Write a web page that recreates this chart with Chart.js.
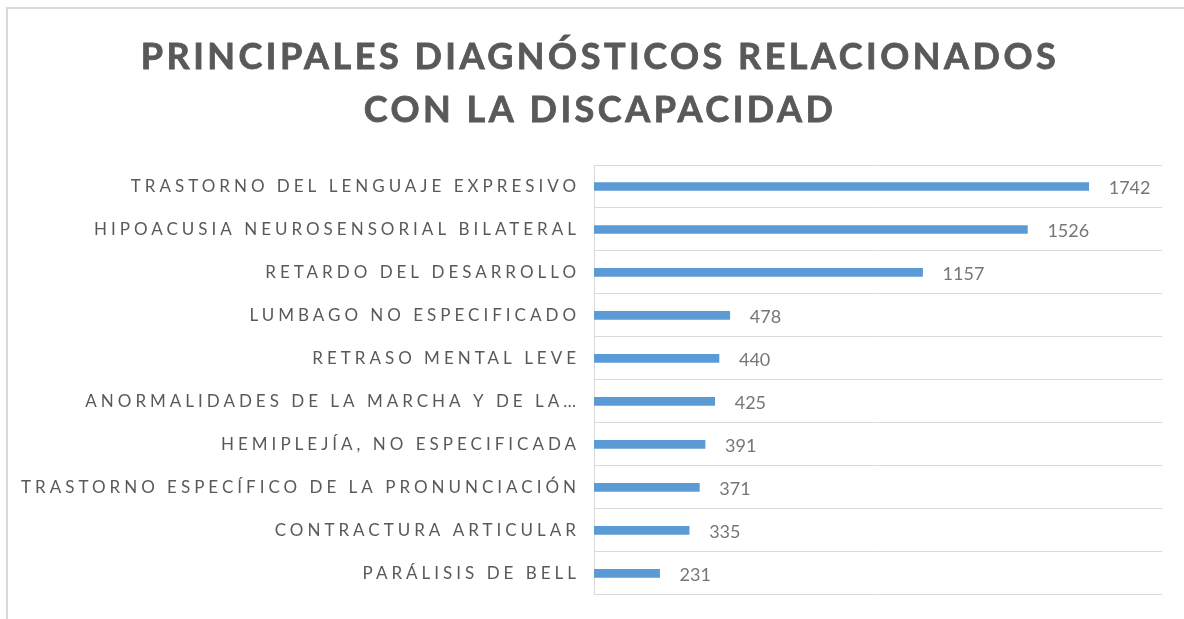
<!DOCTYPE html>
<html>
<head>
<meta charset="utf-8">
<script src="https://cdn.jsdelivr.net/npm/chart.js@4/dist/chart.umd.min.js"></script>
<style>
  html, body { margin: 0; padding: 0; background: #fff; overflow: hidden; }
  #marco { position: absolute; left: 6px; top: 7px; width: 1300px; height: 800px;
           border: 2px solid #D9D9D9; pointer-events: none; }
  canvas { position: absolute; left: 0; top: 0; }
</style>
</head>
<body>
<canvas id="grafico" width="1184" height="619"></canvas>
<div id="marco"></div>
<script>
// datos (de arriba hacia abajo)
var categorias = [
  'TRASTORNO DEL LENGUAJE EXPRESIVO',
  'HIPOACUSIA NEUROSENSORIAL BILATERAL',
  'RETARDO DEL DESARROLLO',
  'LUMBAGO NO ESPECIFICADO',
  'RETRASO MENTAL LEVE',
  'ANORMALIDADES DE LA MARCHA Y DE LA…',
  'HEMIPLEJÍA, NO ESPECIFICADA',
  'TRASTORNO ESPECÍFICO DE LA PRONUNCIACIÓN',
  'CONTRACTURA ARTICULAR',
  'PARÁLISIS DE BELL'
];
var valores = [1742, 1526, 1157, 478, 440, 425, 391, 371, 335, 231];
var ejeMin = 0;
var ejeMax = 2000;
var titulo = ['PRINCIPALES DIAGNÓSTICOS RELACIONADOS', 'CON LA DISCAPACIDAD'];

var espacioEtiquetas = '4px';

/* espaciado de letras, etiquetas de valor y título */
var extras = {
  id: 'extras',
  beforeLayout: function (chart) { chart.ctx.letterSpacing = espacioEtiquetas; },
  beforeDraw: function (chart) { chart.ctx.letterSpacing = espacioEtiquetas; },
  afterDatasetsDraw: function (chart) {
    var ctx = chart.ctx;
    var meta = chart.getDatasetMeta(0);
    ctx.save();
    ctx.letterSpacing = '0px';
    ctx.font = '18px Lato';
    ctx.fillStyle = '#767676';
    ctx.textAlign = 'left';
    ctx.textBaseline = 'middle';
    meta.data.forEach(function (bar, i) {
      ctx.fillText(valores[i], bar.x + 20, bar.y + 2);
    });
    ctx.restore();
  },
  afterDraw: function (chart) {
    var ctx = chart.ctx;
    ctx.save();
    ctx.letterSpacing = '3.5px';
    ctx.font = 'bold 36px Lato';
    ctx.fillStyle = '#595959';
    ctx.strokeStyle = '#595959';
    ctx.lineWidth = 0.8;
    ctx.textAlign = 'center';
    ctx.textBaseline = 'alphabetic';
    ctx.fillText(titulo[0], 600, 69);
    ctx.strokeText(titulo[0], 600, 69);
    ctx.fillText(titulo[1], 600, 122);
    ctx.strokeText(titulo[1], 600, 122);
    ctx.restore();
  }
};

var ctx = document.getElementById('grafico').getContext('2d');
var chart = new Chart(ctx, {
  type: 'bar',
  data: {
    labels: categorias,
    datasets: [{
      data: valores,
      backgroundColor: '#5B9BD5',
      barThickness: 8
    }]
  },
  options: {
    indexAxis: 'y',
    responsive: false,
    animation: false,
    layout: { padding: { top: 165, right: 22, bottom: 24, left: 0 } },
    plugins: {
      legend: { display: false },
      tooltip: { enabled: false },
      title: { display: false }
    },
    scales: {
      x: { display: false, min: ejeMin, max: ejeMax },
      y: {
        grid: { offset: true, color: '#D9D9D9', drawTicks: false },
        border: { color: '#D9D9D9' },
        ticks: { color: '#595959', font: { family: 'Lato', size: 17 }, padding: 14 },
        afterFit: function (scale) { scale.width = 594; }
      }
    }
  },
  plugins: [extras]
});
</script>
</body>
</html>
